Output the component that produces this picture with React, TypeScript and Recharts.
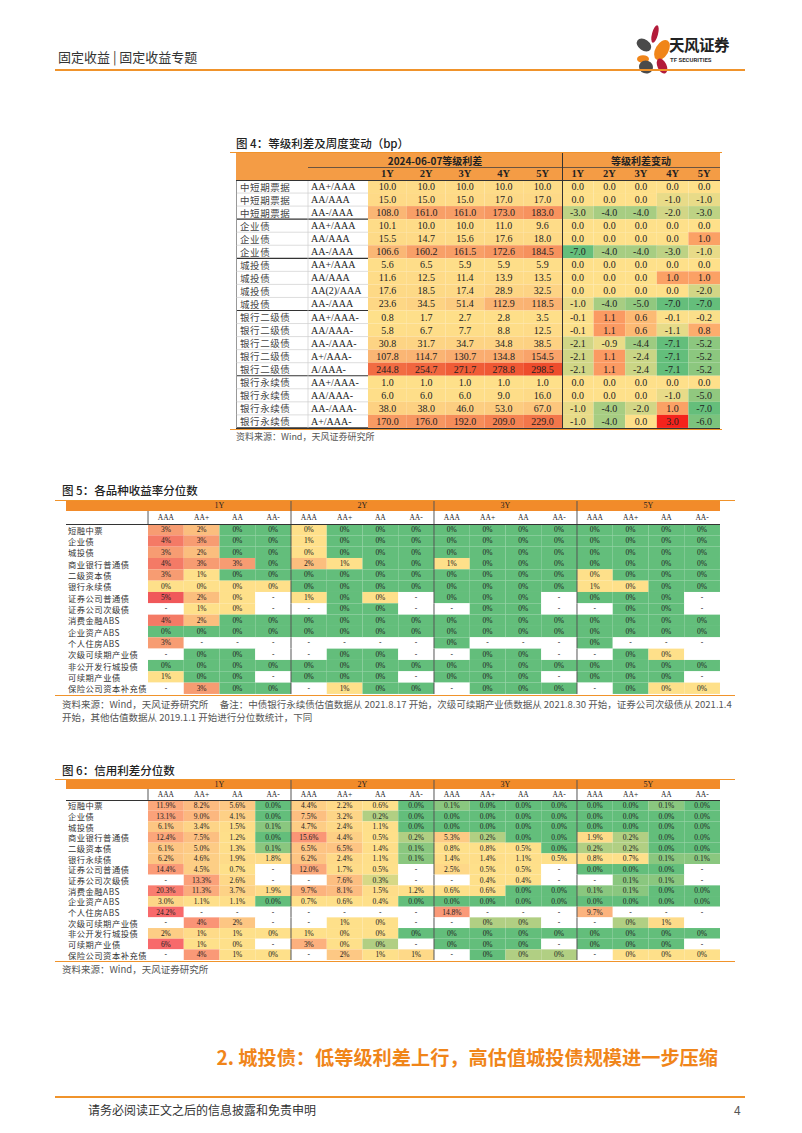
import React from "react"
import { Scatter, ScatterChart, XAxis, YAxis } from "recharts"

const CJK = '"Noto Sans CJK SC", "Noto Sans", sans-serif'
const SERIF = '"Liberation Serif", "DejaVu Serif", serif'

const GREEN = "#63BE7B"
const YELLOW = "#FEE08A"
const RED = "#F8696B"
const ORANGE = "#F28B2A"
const RULE = "#F0932B"

const N = null
const E = ""
type Cell = number | null | ""

// ---------- 图4：等级利差及周度变动（bp）
const bondTypes4 = [
  "中短期票据", "中短期票据", "中短期票据",
  "企业债", "企业债", "企业债",
  "城投债", "城投债", "城投债", "城投债",
  "银行二级债", "银行二级债", "银行二级债", "银行二级债", "银行二级债",
  "银行永续债", "银行永续债", "银行永续债", "银行永续债",
]
const grades4 = [
  "AA+/AAA", "AA/AAA", "AA-/AAA",
  "AA+/AAA", "AA/AAA", "AA-/AAA",
  "AA+/AAA", "AA/AAA", "AA(2)/AAA", "AA-/AAA",
  "AA+/AAA-", "AA/AAA-", "AA-/AAA-", "A+/AAA-", "A/AAA-",
  "AA+/AAA-", "AA/AAA-", "AA-/AAA-", "A+/AAA-",
]
const tenors4 = ["1Y", "2Y", "3Y", "4Y", "5Y"]
const spreadLevel4: Cell[][] = [
  [10.0, 10.0, 10.0, 10.0, 10.0],
  [15.0, 15.0, 15.0, 17.0, 17.0],
  [108.0, 161.0, 161.0, 173.0, 183.0],
  [10.1, 10.0, 10.0, 11.0, 9.6],
  [15.5, 14.7, 15.6, 17.6, 18.0],
  [106.6, 160.2, 161.5, 172.6, 184.5],
  [5.6, 6.5, 5.9, 5.9, 5.9],
  [11.6, 12.5, 11.4, 13.9, 13.5],
  [17.6, 18.5, 17.4, 28.9, 32.5],
  [23.6, 34.5, 51.4, 112.9, 118.5],
  [0.8, 1.7, 2.7, 2.8, 3.5],
  [5.8, 6.7, 7.7, 8.8, 12.5],
  [30.8, 31.7, 34.7, 34.8, 38.5],
  [107.8, 114.7, 130.7, 134.8, 154.5],
  [244.8, 254.7, 271.7, 278.8, 298.5],
  [1.0, 1.0, 1.0, 1.0, 1.0],
  [6.0, 6.0, 6.0, 9.0, 16.0],
  [38.0, 38.0, 46.0, 53.0, 67.0],
  [170.0, 176.0, 192.0, 209.0, 229.0],
]
const spreadChange4: Cell[][] = [
  [0, 0, 0, 0, 0],
  [0, 0, 0, -1, -1],
  [-3, -4, -4, -2, -3],
  [0, 0, 0, 0, 0],
  [0, 0, 0, 0, 1],
  [-7, -4, -4, -3, -1],
  [0, 0, 0, 0, 0],
  [0, 0, 0, 1, 1],
  [0, 0, 0, 0, -2],
  [-1, -4, -5, -7, -7],
  [-0.1, 1.1, 0.6, -0.1, -0.2],
  [-0.1, 1.1, 0.6, -1.1, 0.8],
  [-2.1, -0.9, -4.4, -7.1, -5.2],
  [-2.1, 1.1, -2.4, -7.1, -5.2],
  [-2.1, 1.1, -2.4, -7.1, -5.2],
  [0, 0, 0, 0, 0],
  [0, 0, 0, -1, -5],
  [-1, -4, -2, 1, -7],
  [-1, -4, 0, 3, -6],
]

// ---------- 图5 / 图6 shared categories
const products = [
  "短融中票", "企业债", "城投债", "商业银行普通债", "二级资本债", "银行永续债",
  "证券公司普通债", "证券公司次级债", "消费金融ABS", "企业资产ABS", "个人住房ABS",
  "次级可续期产业债", "非公开发行城投债", "可续期产业债", "保险公司资本补充债",
]
const years = ["1Y", "2Y", "3Y", "5Y"]
const ratings = ["AAA", "AA+", "AA", "AA-"]

// 图5：各品种收益率分位数 (%)
const yield1Y: Cell[][] = [
  [3, 2, 0, 0], [4, 3, 0, 0], [3, 2, 0, 0], [4, 3, 3, 0], [3, 1, 0, 0],
  [0.4, 0.4, 0.4, 0.4], [5, 2, 0.4, N], [N, 1, 0.4, N], [4, 2, 0, 0], [0, 0, 0, 0],
  [3, N, N, N], [N, 0, 0, N], [0, 0, 0, 0], [1, 0, 0, N], [N, 3, 0, 0],
]
const yield2Y: Cell[][] = [
  [0.4, 0, 0, 0], [1, 0, 0, 0], [0.4, 0, 0, 0], [2, 1, 0, 0], [0, 0, 0, 0],
  [0, 0, 0, 0], [1, 0, 0.4, N], [N, 0, 0, N], [0, 0, 0, 0], [0, 0, 0, 0],
  [N, N, N, N], [N, 0, 0, N], [0, 0, 0, 0], [0, 0, 0, N], [N, 1, 0, 0],
]
const yield3Y: Cell[][] = [
  [0, 0, 0, 0], [0, 0, 0, 0], [0, 0, 0, 0], [1, 0, 0, 0], [0, 0, 0, 0],
  [0, 0, 0, 0], [0, 0, 0, N], [N, 0, 0, N], [0, 0, 0, 0], [0, 0, 0, 0],
  [0, N, N, N], [N, 0, 0, N], [0, 0, 0, 0], [0, 0, 0, N], [N, 0, 0, 0],
]
const yield5Y: Cell[][] = [
  [0, 0, 0, 0], [0, 0, 0, 0], [0, 0, 0, 0], [0, 0, 0, 0], [0.4, 0, 0, 0],
  [1, 0.4, 0, 0], [0, 0, 0, N], [N, 0, 0, N], [0, 0, 0, 0], [0, 0, 0, 0],
  [0, N, N, N], [N, 0, 0.4, E], [0, 0, 0, 0], [0, 0, 0, N], [N, 0, 0.4, 0.4],
]

// 图6：信用利差分位数 (%)
const spread1Y: Cell[][] = [
  [11.9, 8.2, 5.6, 0.0], [13.1, 9.0, 4.1, 0.0], [6.1, 3.4, 1.5, 0.1], [12.4, 7.5, 1.2, 0.0],
  [6.1, 5.0, 1.3, 0.1], [6.2, 4.6, 1.9, 1.8], [14.4, 4.5, 0.7, N], [N, 13.3, 2.6, N],
  [20.3, 11.3, 3.7, 1.9], [3.0, 1.1, 1.1, 0.0], [24.2, N, N, N], [N, 4.2, 2.1, N],
  [1.8, 1.2, 0.9, 0.4], [6.0, 1.0, 0.4, N], [N, 4.0, 1.0, 0.4],
]
const spread2Y: Cell[][] = [
  [4.4, 2.2, 0.6, 0.0], [7.5, 3.2, 0.2, 0.0], [4.7, 2.4, 1.1, 0.0], [15.6, 4.4, 0.5, 0.2],
  [6.5, 6.5, 1.4, 0.1], [6.2, 2.4, 1.1, 0.1], [12.0, 1.7, 0.5, N], [N, 7.6, 0.3, N],
  [9.7, 8.1, 1.5, 1.2], [0.7, 0.6, 0.4, 0.0], [N, N, N, N], [N, 1.0, 0.4, N],
  [1.0, 0.4, 0.4, 0.0], [3.0, 0.4, 0.2, N], [N, 2.0, 1.0, 1.3],
]
const spread3Y: Cell[][] = [
  [0.1, 0.0, 0.0, 0.0], [0.0, 0.0, 0.0, 0.0], [0.0, 0.0, 0.0, 0.0], [5.3, 0.2, 0.0, 0.0],
  [0.8, 0.8, 0.5, 0.0], [1.4, 1.4, 1.1, 0.5], [2.5, 0.5, 0.5, N], [N, 0.4, 0.4, N],
  [0.6, 0.6, 0.0, 0.0], [0.0, 0.0, 0.0, 0.0], [14.8, N, N, N], [N, 0.2, 0.2, N],
  [0, 0, 0, 0], [0, 0, 0, N], [N, 0, 0.2, 0.2],
]
const spread5Y: Cell[][] = [
  [0.0, 0.0, 0.1, 0.0], [0.0, 0.0, 0.0, 0.0], [0.0, 0.0, 0.0, 0.0], [1.9, 0.2, 0.0, 0.0],
  [0.2, 0.2, 0.0, 0.0], [0.8, 0.7, 0.1, 0.1], [0.0, 0.0, 0.0, N], [N, 0.1, 0.1, N],
  [0.1, 0.1, 0.0, 0.0], [0.0, 0.0, 0.0, 0.0], [9.7, N, N, N], [N, 0.2, 1.2, E],
  [0, 0, 0, 0], [0, 0, 0, N], [N, 0.4, 0.4, 0.4],
]
// rows of 图6 shown as whole percents
const wholePctRows6 = ["次级可续期产业债", "非公开发行城投债", "可续期产业债", "保险公司资本补充债"]

// ---------- colour scales
function hex(c: string) {
  const n = parseInt(c.slice(1), 16)
  return [(n >> 16) & 255, (n >> 8) & 255, n & 255]
}
function scale(stops: [number, string][]) {
  return (v: number) => {
    if (v <= stops[0][0]) return stops[0][1]
    for (let i = 1; i < stops.length; i++) {
      if (v <= stops[i][0]) {
        const [a, ca] = stops[i - 1]
        const [b, cb] = stops[i]
        const t = (v - a) / (b - a)
        const A = hex(ca)
        const B = hex(cb)
        return `rgb(${A.map((x, k) => Math.round(x + (B[k] - x) * t)).join(",")})`
      }
    }
    return stops[stops.length - 1][1]
  }
}
const levelColor = scale([[0, YELLOW], [150, "#F9A66C"], [300, "#EE4B2B"]])
const changeColor = scale([[-7.1, GREEN], [0, YELLOW], [3, "#F5221C"]])
const yieldColor = scale([[0, GREEN], [0.3, YELLOW], [1, YELLOW], [5, "#F0585A"]])
const spreadColor = scale([[0, GREEN], [0.4, YELLOW], [1.0, YELLOW], [24.2, RED]])
const spreadWholeColor = scale([[0, GREEN], [0.4, YELLOW], [1, YELLOW], [6, RED]])

const joinYears = (a: Cell[][], b: Cell[][], c: Cell[][], d: Cell[][]) =>
  a.map((row, i) => [...row, ...b[i], ...c[i], ...d[i]])

// ---------- generic heat table drawn as a scatter of cells
interface HeatTableProps {
  width: number
  labelW: number
  band1: number
  band2: number
  rowH: number
  rows: string[]
  cols: string[]
  groups: string[]
  groupDx?: number
  values: Cell[][]
  color: (v: number, r: number) => string
  format: (v: number, r: number) => string
  valueSize: number
  colSize: number
  groupSize: number
  headBold?: boolean
  groupLines?: boolean
  rowTick: (x: number, y: number, r: number) => React.ReactNode
}

function HeatTable(p: HeatTableProps) {
  const nCols = p.cols.length
  const nRows = p.rows.length
  const head = p.band1 + p.band2
  const height = head + nRows * p.rowH
  const cellW = (p.width - p.labelW) / nCols
  const per = nCols / p.groups.length
  const cells = p.values.flatMap((row, r) => row.map((v, c) => ({ x: c + 0.5, y: r + 0.5, r, c, v })))

  const renderCell = (props: any) => {
    const { cx, cy, payload } = props
    const { v, r, c } = payload
    const x0 = cx - cellW / 2
    const y0 = cy - p.rowH / 2
    const empty = v === null || v === ""
    return (
      <g>
        <rect x={x0} y={y0} width={cellW} height={p.rowH} fill={empty ? "#fff" : p.color(v, r)} />
        {v !== "" && (
          <text x={cx} y={cy} textAnchor="middle" dominantBaseline="central" fontSize={p.valueSize} fontFamily={SERIF} fill="#222">
            {v === null ? "-" : p.format(v, r)}
          </text>
        )}
        {p.groupLines && c > 0 && c % per === 0 && (
          <line x1={x0} x2={x0} y1={y0} y2={y0 + p.rowH} stroke="#555" strokeWidth={1} />
        )}
      </g>
    )
  }

  const colTick = (props: any) => {
    const { x, y, payload } = props
    const i = Math.round(payload.value - 0.5)
    const left = x - cellW / 2
    const first = i % per === 0
    const g = Math.floor(i / per)
    return (
      <g>
        <text x={x} y={y - p.band2 / 2} textAnchor="middle" dominantBaseline="central" fontSize={p.colSize} fontFamily={SERIF} fontWeight={p.headBold ? 700 : 400} fill="#222">
          {p.cols[i]}
        </text>
        {first && (
          <text x={left + (per * cellW) / 2 + (p.groupDx || 0)} y={y - p.band2 - p.band1 / 2} textAnchor="middle" dominantBaseline="central" fontSize={p.headBold ? 10 : 8} fontFamily={p.headBold ? CJK : SERIF} fontWeight={p.headBold ? 700 : 400} fill="#222">
            {p.groups[g]}
          </text>
        )}
        {p.groupLines && first && (
          <line x1={left} x2={left} y1={i > 0 ? y - head : y - p.band2} y2={y} stroke="#555" strokeWidth={1} />
        )}
      </g>
    )
  }

  const rowTickFn = (props: any) => {
    const { x, y, payload } = props
    const r = Math.round(payload.value - 0.5)
    return <g>{p.rowTick(x, y, r)}</g>
  }

  return (
    <ScatterChart width={p.width} height={height} margin={{ top: 0, right: 0, bottom: 0, left: 0 }}>
      <XAxis
        type="number"
        dataKey="x"
        domain={[0, nCols]}
        orientation="top"
        height={head}
        ticks={p.cols.map((_, i) => i + 0.5)}
        interval={0}
        tick={colTick}
        tickSize={0}
        tickMargin={0}
        axisLine={false}
        tickLine={false}
        allowDataOverflow
      />
      <YAxis
        type="number"
        dataKey="y"
        domain={[0, nRows]}
        reversed
        width={p.labelW}
        hide={p.labelW === 0}
        ticks={p.rows.map((_, i) => i + 0.5)}
        interval={0}
        tick={rowTickFn}
        tickSize={0}
        tickMargin={0}
        axisLine={false}
        tickLine={false}
        allowDataOverflow
      />
      <Scatter data={cells} shape={renderCell} isAnimationActive={false} />
    </ScatterChart>
  )
}

// ---------- figure 4
const ROW4 = 13.05
const LABEL4 = 132

function rowTick4(x: number, y: number, r: number) {
  const top = y - ROW4 / 2
  const bottom = y + ROW4 / 2
  const groupEnd = r === bondTypes4.length - 1 || bondTypes4[r + 1] !== bondTypes4[r]
  return (
    <>
      <line x1={x - LABEL4 + 0.5} x2={x} y1={bottom} y2={bottom} stroke={groupEnd ? "#333" : "#CFCFCF"} strokeWidth={groupEnd ? 1.2 : 0.7} />
      <line x1={x - LABEL4 + 0.5} x2={x - LABEL4 + 0.5} y1={top} y2={bottom} stroke="#999" strokeWidth={1} />
      <line x1={x - 60} x2={x - 60} y1={top} y2={bottom} stroke="#CFCFCF" strokeWidth={0.7} />
      <text x={x - LABEL4 + 4} y={y} dominantBaseline="central" fontSize={9.5} letterSpacing={0.6} fontFamily={CJK} fill="#444">
        {bondTypes4[r]}
      </text>
      <text x={x - 57} y={y} dominantBaseline="central" fontSize={10} fontFamily={SERIF} fill="#222">
        {grades4[r]}
      </text>
    </>
  )
}

const titleStyle: React.CSSProperties = { position: "absolute", fontSize: 11.5, lineHeight: "14px", color: "#222", fontWeight: 500 }

function Figure4() {
  const fmt = (v: number) => v.toFixed(1)
  return (
    <>
      <div style={{ ...titleStyle, left: 236, top: 136 }}>图 4：等级利差及周度变动（bp）</div>
      <div style={{ position: "absolute", left: 230, top: 152, width: 492, height: 1, background: RULE }} />
      <div style={{ position: "absolute", left: 236, top: 153, width: 484, height: 27, background: "#F49C45" }} />
      <div style={{ position: "absolute", left: 236, top: 153 }}>
        <HeatTable
          width={326}
          labelW={LABEL4}
          band1={14}
          band2={13}
          rowH={ROW4}
          rows={grades4}
          cols={tenors4}
          groups={["2024-06-07等级利差"]}
          groupDx={-30}
          values={spreadLevel4}
          color={(v) => levelColor(v)}
          format={fmt}
          valueSize={10}
          colSize={10.5}
          groupSize={5}
          headBold
          rowTick={rowTick4}
        />
      </div>
      <div style={{ position: "absolute", left: 562, top: 153 }}>
        <HeatTable
          width={158}
          labelW={0}
          band1={14}
          band2={13}
          rowH={ROW4}
          rows={grades4}
          cols={tenors4}
          groups={["等级利差变动"]}
          values={spreadChange4}
          color={(v) => changeColor(v)}
          format={fmt}
          valueSize={10}
          colSize={10.5}
          groupSize={5}
          headBold
          rowTick={() => null}
        />
      </div>
      <div style={{ position: "absolute", left: 308, top: 166.5, width: 412, height: 1, background: "#6b5440" }} />
      <div style={{ position: "absolute", left: 236, top: 179.5, width: 484, height: 1, background: "#333" }} />
      <div style={{ position: "absolute", left: 561.5, top: 153, width: 1, height: 275, background: "#333" }} />
      <div style={{ position: "absolute", left: 236, top: 427.5, width: 484, height: 1, background: "#333" }} />
      <div style={{ position: "absolute", left: 230, top: 429, width: 492, height: 1, background: RULE }} />
      <div style={{ position: "absolute", left: 236, top: 431, fontSize: 9, lineHeight: "12px", color: "#555" }}>资料来源：Wind，天风证券研究所</div>
    </>
  )
}

// ---------- figures 5 / 6
function productTick(x: number, y: number, r: number) {
  return (
    <text x={x - 80} y={y} dominantBaseline="central" fontSize={8.3} letterSpacing={0.5} fontFamily={CJK} fill="#333">
      {products[r]}
    </text>
  )
}

interface PctProps {
  top: number
  band1: number
  band2: number
  rowH: number
  values: Cell[][]
  color: (v: number, r: number) => string
  format: (v: number, r: number) => string
}

function PctTable({ top, band1, band2, rowH, values, color, format }: PctProps) {
  const cols = years.flatMap(() => ratings)
  const h = band1 + band2 + products.length * rowH
  return (
    <>
      <div style={{ position: "absolute", left: 55, top: top - 1, width: 680, height: 1, background: RULE }} />
      <div style={{ position: "absolute", left: 66, top, width: 654, height: band1, background: ORANGE }} />
      <div style={{ position: "absolute", left: 66, top }}>
        <HeatTable
          width={654}
          labelW={82}
          band1={band1}
          band2={band2}
          rowH={rowH}
          rows={products}
          cols={cols}
          groups={years}
          values={values}
          color={color}
          format={format}
          valueSize={7.5}
          colSize={7.5}
          groupSize={8}
          groupLines
          rowTick={productTick}
        />
      </div>
      <div style={{ position: "absolute", left: 66, top: top + band1 + band2 - 0.5, width: 654, height: 1, background: "#333" }} />
      <div style={{ position: "absolute", left: 55, top: top + h + 1, width: 680, height: 1, background: RULE }} />
    </>
  )
}

function Figure5() {
  return (
    <>
      <div style={{ ...titleStyle, left: 62, top: 483 }}>图 5：各品种收益率分位数</div>
      <PctTable
        top={501}
        band1={10}
        band2={13}
        rowH={11.33}
        values={joinYears(yield1Y, yield2Y, yield3Y, yield5Y)}
        color={(v) => yieldColor(v)}
        format={(v) => `${Math.round(v)}%`}
      />
      <div style={{ position: "absolute", left: 62, top: 698, fontSize: 9.5, lineHeight: "13px", color: "#555", whiteSpace: "nowrap" }}>
        资料来源：Wind，天风证券研究所　 备注：中债银行永续债估值数据从 2021.8.17 开始，次级可续期产业债数据从 2021.8.30 开始，证券公司次级债从 2021.1.4
      </div>
      <div style={{ position: "absolute", left: 62, top: 711, fontSize: 9.5, lineHeight: "13px", color: "#555", whiteSpace: "nowrap" }}>
        开始，其他估值数据从 2019.1.1 开始进行分位数统计，下同
      </div>
    </>
  )
}

function Figure6() {
  const whole = (r: number) => wholePctRows6.includes(products[r])
  return (
    <>
      <div style={{ ...titleStyle, left: 62, top: 763 }}>图 6：信用利差分位数</div>
      <PctTable
        top={780}
        band1={9}
        band2={11}
        rowH={10.67}
        values={joinYears(spread1Y, spread2Y, spread3Y, spread5Y)}
        color={(v, r) => (whole(r) ? spreadWholeColor(v) : spreadColor(v))}
        format={(v, r) => (whole(r) ? `${Math.round(v)}%` : `${v.toFixed(1)}%`)}
      />
      <div style={{ position: "absolute", left: 62, top: 963, fontSize: 9.5, lineHeight: "13px", color: "#555" }}>资料来源：Wind，天风证券研究所</div>
    </>
  )
}

function Logo() {
  return (
    <>
      <svg style={{ position: "absolute", left: 628, top: 20 }} width={44} height={54}>
        <ellipse cx={27} cy={14} rx={3} ry={9} transform="rotate(15 27 14)" fill="#B31B3A" />
        <ellipse cx={16} cy={25} rx={5.5} ry={8} transform="rotate(-55 16 25)" fill="#4A4A4A" />
        <ellipse cx={34} cy={30} rx={6.5} ry={11} transform="rotate(30 34 30)" fill="#F08519" />
        <ellipse cx={15} cy={39} rx={6} ry={3.8} fill="#F08519" />
        <ellipse cx={34} cy={46} rx={4.5} ry={8} transform="rotate(-25 34 46)" fill="#B31B3A" />
        <ellipse cx={18} cy={47} rx={7} ry={6.5} transform="rotate(20 18 47)" fill="#4A4A4A" />
      </svg>
      <div style={{ position: "absolute", left: 669, top: 35, fontSize: 15.5, lineHeight: "18px", fontWeight: 700, color: "#222", letterSpacing: -0.5 }}>天风证券</div>
      <div style={{ position: "absolute", left: 670, top: 56, fontSize: 6, lineHeight: "8px", color: "#333", fontFamily: "Roboto, sans-serif", fontWeight: 700 }}>TF SECURITIES</div>
    </>
  )
}

export default function App() {
  return (
    <div style={{ position: "absolute", left: 0, top: 0, width: 802, height: 1133, background: "#fff", overflow: "hidden", fontFamily: CJK }}>
      <div style={{ position: "absolute", left: 58, top: 49, fontSize: 13, lineHeight: "16px", color: "#333" }}>固定收益 | 固定收益专题</div>
      <Logo />
      <div style={{ position: "absolute", left: 55, top: 69, width: 690, height: 1.5, background: RULE }} />

      <Figure4 />
      <Figure5 />
      <Figure6 />

      <div style={{ position: "absolute", left: 100, width: 618, top: 1045, textAlign: "right", fontSize: 19.2, lineHeight: "24px", fontWeight: 700, color: "#F08519" }}>
        2. 城投债：低等级利差上行，高估值城投债规模进一步压缩
      </div>
      <div style={{ position: "absolute", left: 55, top: 1096, width: 690, height: 1.5, background: RULE }} />
      <div style={{ position: "absolute", left: 88, top: 1102, fontSize: 12, lineHeight: "16px", color: "#333" }}>请务必阅读正文之后的信息披露和免责申明</div>
      <div style={{ position: "absolute", left: 734, top: 1102, fontSize: 12, lineHeight: "16px", color: "#555" }}>4</div>
    </div>
  )
}
